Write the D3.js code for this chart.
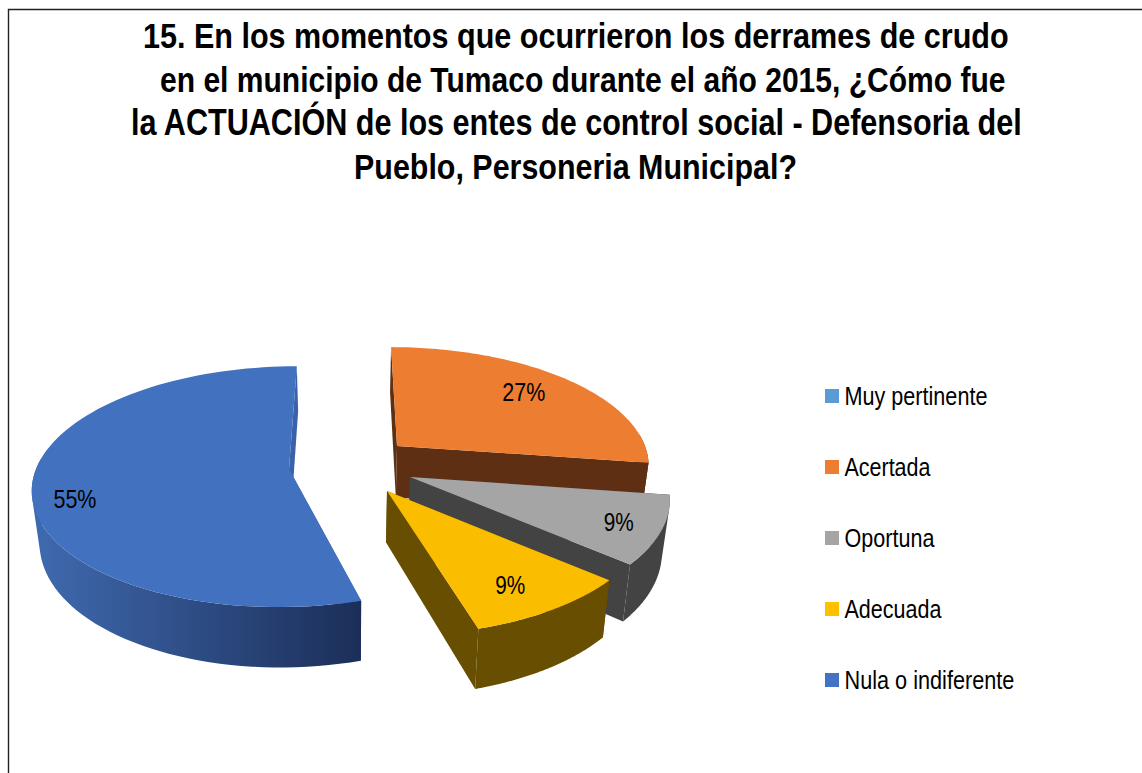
<!DOCTYPE html>
<html lang="es">
<head>
<meta charset="utf-8">
<title>Actuación de los entes de control social</title>
<script src="https://cdn.jsdelivr.net/npm/d3@7/dist/d3.min.js"></script>
<style>
html,body{margin:0;padding:0;background:#fff;overflow:hidden}
svg{display:block}
text{font-family:"Liberation Sans",Arial,sans-serif;fill:#000}
</style>
</head>
<body>
<svg id="chart" width="1142" height="773"></svg>
<script>
// ---- data ----
const categories = ["Muy pertinente", "Acertada", "Oportuna", "Adecuada", "Nula o indiferente"];
const values = [0, 27.3, 9.1, 9.1, 54.5];
const titleLines = [
  "15. En los momentos que ocurrieron los derrames de crudo",
  "en el municipio de Tumaco durante el año 2015, ¿Cómo fue",
  "la ACTUACIÓN de los entes de control social - Defensoria del",
  "Pueblo, Personeria Municipal?"
];

// ---- styles ----
const topColors  = ["#5b9bd5", "#ed7d31", "#a5a5a5", "#fbbd00", "#4271c0"];
const swatchColors = ["#5b9bd5", "#ed7d31", "#a5a5a5", "#ffc000", "#4472c4"];
const wallColors = [null, "#5f2f13", "#434343", "#674e00", "url(#blueWall)"];
const cutColors  = [null, "#5f2f13", "#434343", "#674e00", "#3a62a8"];

// ---- layout: exploded apex and size of every slice, label placement ----
const apexX   = [0, 397, 410, 387, 289];
const apexY   = [0, 446, 477, 491, 469];
const sizeK   = [1, 0.98, 1.01, 1.03, 1.0];
const tiltK   = [1, 0.97, 1, 1, 0.99];
const labelR  = [0, 0.76, 0.85, 0.80, 0.87];
const labelDX = [0, -3, -3, -6, 9];
const labelDY = [0, -2, 0, 2, 15];
const titleX  = [143, 160, 131, 354];
const titleW  = [866, 846, 891, 443];
const titleY  = [48, 91.5, 135, 178.5];
const legendW = [143, 86, 90, 97, 170];

const viewX = 350, radius = 253, tilt = 119, persp = 0.147, depth = 51.5, squeeze = 0.975;

const svg = d3.select("#chart");

// squeezes a text horizontally to the measured width of the reference
function fit(sel, xOf, yOf, wOf) {
  sel.attr("transform", function (d, i) {
    const natural = this.getComputedTextLength();
    return `translate(${xOf(d, i)},${yOf(d, i)}) scale(${wOf(d, i) / natural},1)`;
  });
}

// gradient of the blue outer wall
const grad = svg.append("defs").append("linearGradient")
  .attr("id", "blueWall").attr("gradientUnits", "userSpaceOnUse")
  .attr("x1", 40).attr("x2", 362).attr("y1", 0).attr("y2", 0);
grad.append("stop").attr("offset", 0).attr("stop-color", "#3f69ae");
grad.append("stop").attr("offset", 1).attr("stop-color", "#1b2e58");

// frame
svg.append("path")
  .attr("d", d3.line()([[8.5, 773], [8.5, 9.5], [1142, 9.5]]))
  .attr("fill", "none").attr("stroke", "#222").attr("stroke-width", 1.4);

// title
const titleSel = svg.append("g").selectAll("text").data(titleLines).join("text")
  .attr("font-size", 36).attr("font-weight", "bold")
  .text(d => d);
fit(titleSel, (d, i) => titleX[i], (d, i) => titleY[i], (d, i) => titleW[i]);

// ---- pie ----
const pie = d3.pie().value(d => d).sort(null).startAngle(0).endAngle(2 * Math.PI);
const arcs = pie(values);
const line = d3.line().curve(d3.curveLinearClosed);

function scaleAt(depthUnit) { return 1 / (1 + persp * depthUnit); }

// projects polar position on the slice's top face to the screen
function project(i, angle, r) {
  const k = sizeK[i];
  const X = Math.sin(angle) * radius * r * k;
  const Y = Math.cos(angle) * r * k;
  const s = scaleAt(Y);
  return { x: viewX + (apexX[i] - viewX + X) * s, y: apexY[i] - Y * tilt * tiltK[i] * s, s, angle };
}
function drop(p) {
  return [viewX + (p.x - viewX) * squeeze, p.y + depth * p.s];
}
// same winding for every quad, so the compound wall path fills without holes
function oriented(poly) {
  return d3.polygonArea(poly) < 0 ? poly.slice().reverse() : poly;
}

const arcPoints = a => d3.range(0, 91).map(t => a.startAngle + (a.endAngle - a.startAngle) * t / 90);

const gPie = svg.append("g");
// back to front: blue, orange, grey, yellow
[4, 1, 2, 3].forEach(i => {
  const a = arcs[i];
  if (a.endAngle - a.startAngle <= 0) return;
  const rim = arcPoints(a).map(t => project(i, t, 1));
  const apex = project(i, 0, 0);
  const g = gPie.append("g").attr("class", "slice");

  // cut faces
  [rim[0], rim[rim.length - 1]].forEach(p => {
    g.append("path")
      .attr("d", line([[apex.x, apex.y], [p.x, p.y], drop(p), drop(apex)]))
      .attr("fill", cutColors[i]);
  });
  // outer wall: only the part that faces the viewer, one compound path so that no seams show
  const wall = d3.pairs(rim)
    .filter(([p, q]) => Math.cos((p.angle + q.angle) / 2) < 0.1)
    .map(([p, q]) => line(oriented([[p.x, p.y], [q.x, q.y], drop(q), drop(p)])))
    .join("");
  g.append("path").attr("d", wall).attr("fill", wallColors[i]);
  // top face
  g.append("path")
    .attr("d", line([[apex.x, apex.y]].concat(rim.map(p => [p.x, p.y]))))
    .attr("fill", topColors[i]);
});

// percentage labels
const gLabels = svg.append("g");
arcs.forEach((a, i) => {
  if (a.endAngle - a.startAngle <= 0) return;
  const p = project(i, (a.startAngle + a.endAngle) / 2, labelR[i]);
  const w = Math.round(values[i]) >= 10 ? 43 : 30;
  const t = gLabels.append("text")
    .attr("font-size", 26)
    .text(d3.format(".0f")(values[i]) + "%");
  fit(t, () => p.x + labelDX[i] - w / 2, () => p.y + labelDY[i] + 9, () => w);
});

// ---- legend ----
const legendY = d3.scalePoint().domain(categories).range([396, 680]);
const legend = svg.append("g").selectAll("g").data(categories).join("g")
  .attr("transform", d => `translate(825,${legendY(d)})`);
legend.append("rect")
  .attr("x", 0).attr("y", -7).attr("width", 14).attr("height", 14)
  .attr("fill", (d, i) => swatchColors[i]);
const legendText = legend.append("text")
  .attr("font-size", 25)
  .text(d => d);
fit(legendText, () => 19.5, () => 9, (d, i) => legendW[i]);
</script>
</body>
</html>
